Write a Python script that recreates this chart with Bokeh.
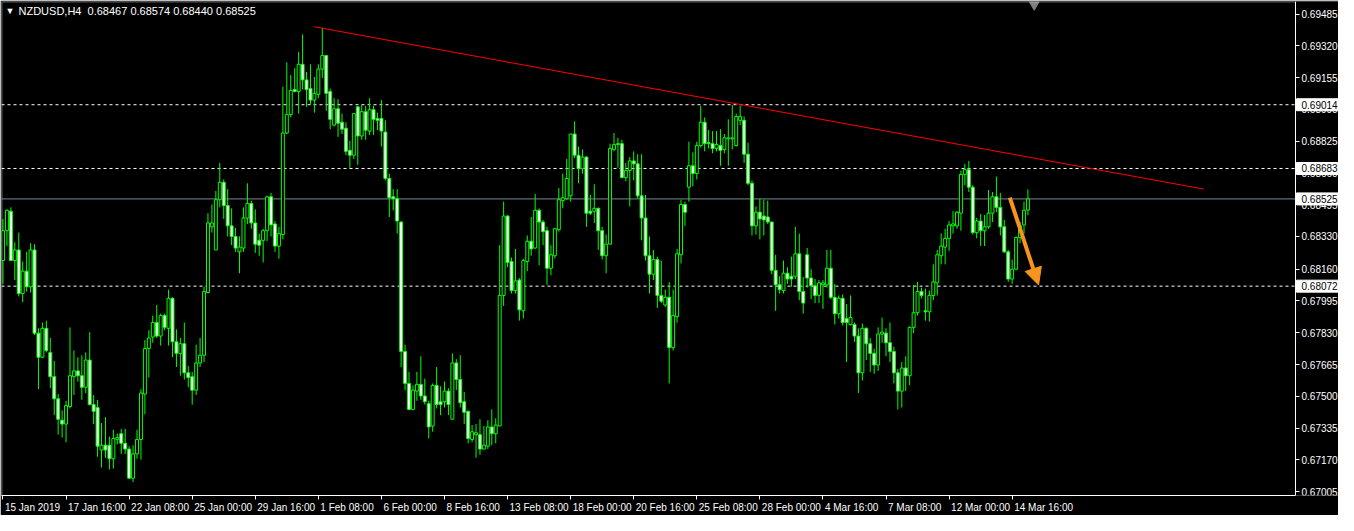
import numpy as np
from bokeh.plotting import figure
from bokeh.models import (Range1d, FixedTicker, PrintfTickFormatter, CustomJSTickFormatter,
                          Label, Arrow, NormalHead, LinearAxis, BoxAnnotation)
from bokeh.core.properties import value
from bokeh.embed import file_html
from bokeh.resources import INLINE

symbol = "NZDUSD,H4"

# H4 OHLC, in points (1 point = 0.00001), first bar 15 Jan 2019 00:00
open_pts = [
    68205, 68360, 68461, 68205, 68260, 68034, 68150, 68069, 68260, 67828,
    67703, 67853, 67728, 67602, 67487, 67376, 67356, 67447, 67602, 67632,
    67607, 67547, 67688, 67457, 67442, 67221, 67246, 67246, 67176, 67276,
    67306, 67256, 67226, 67075, 67201, 67276, 67512, 67748, 67808, 67883,
    67813, 67919, 67853, 68009, 67783, 67723, 67773, 67622, 67602, 67532,
    67673, 67713, 68039, 68380, 68260, 68521, 68611, 68491, 68385, 68330,
    68250, 68270, 68426, 68501, 68400, 68310, 68310, 68360, 68536, 68395,
    68280, 68340, 68867, 68963, 69093, 69083, 69224, 69143, 69098, 69038,
    69068, 69199, 69269, 69083, 68908, 68993, 68923, 68892, 68777, 68752,
    69003, 68852, 68978, 68877, 68988, 68943, 68943, 68872, 68631, 68536,
    68526, 68405, 67733, 67567, 67432, 67527, 67562, 67502, 67462, 67346,
    67557, 67472, 67472, 67527, 67381, 67673, 67587, 67472, 67422, 67276,
    67301, 67301, 67226, 67241, 67341, 67306, 67346, 68024, 68436, 68200,
    68049, 68104, 67944, 68200, 68305, 68270, 68466, 68405, 68360, 68165,
    68230, 68365, 68516, 68526, 68541, 68862, 68752, 68682, 68742, 68461,
    68461, 68476, 68360, 68230, 68290, 68782, 68807, 68812, 68636, 68672,
    68722, 68707, 68541, 68426, 68230, 68134, 68210, 68024, 67974, 68014,
    67753, 67914, 68235, 68496, 68586, 68697, 68657, 68802, 68923, 68817,
    68812, 68787, 68802, 68782, 68837, 68837, 68802, 68933, 68933, 68757,
    68606, 68385, 68456, 68436, 68431, 68405, 68154, 68079, 68049, 68139,
    68124, 68124, 68240, 68044, 68235, 68114, 68074, 68024, 68079, 68079,
    68165, 68014, 67929, 68009, 67904, 67873, 67873, 67813, 67622, 67853,
    67773, 67723, 67663, 67823, 67828, 67778, 67733, 67622, 67527, 67647,
    67607, 67858, 67934, 68044, 67944, 67939, 68024, 68089, 68230, 68275,
    68320, 68385, 68385, 68451, 68652, 68677, 68586, 68350, 68410, 68360,
    68380, 68451, 68536, 68481, 68380, 68250, 68109, 68160, 68325, 68390,
    68467,
]
high_pts = [
    68421, 68471, 68481, 68300, 68350, 68200, 68250, 68295, 68290, 67853,
    67883, 67893, 67803, 67683, 67512, 67427, 67477, 67858, 67738, 67703,
    67713, 67728, 67833, 67507, 67482, 67361, 67391, 67291, 67326, 67306,
    67331, 67331, 67241, 67246, 67326, 67537, 67793, 67843, 67919, 67974,
    67929, 67929, 68054, 68014, 67848, 67803, 67883, 67658, 67627, 67768,
    67803, 68069, 68451, 68496, 68566, 68712, 68626, 68576, 68476, 68375,
    68330, 68481, 68606, 68516, 68471, 68345, 68370, 68541, 68556, 68410,
    68380, 69108, 69234, 69168, 69204, 69289, 69379, 69184, 69224, 69158,
    69224, 69414, 69269, 69098, 69048, 69043, 68968, 68923, 68827, 68968,
    69003, 69013, 69008, 69048, 69008, 68973, 69038, 68933, 68656, 68576,
    68576, 68410, 67768, 67627, 67557, 67627, 67708, 67592, 67477, 67567,
    67652, 67552, 67577, 67542, 67723, 67693, 67713, 67522, 67427, 67351,
    67356, 67381, 67346, 67376, 67432, 67386, 68285, 68511, 68441, 68220,
    68265, 68114, 68215, 68335, 68431, 68551, 68476, 68416, 68380, 68285,
    68375, 68581, 68656, 68732, 68862, 68928, 68797, 68782, 68747, 68546,
    68601, 68481, 68380, 68340, 68812, 68867, 68842, 68832, 68712, 68742,
    68772, 68757, 68757, 68546, 68330, 68260, 68225, 68205, 68054, 68094,
    68054, 68265, 68521, 68511, 68822, 68767, 68822, 69008, 68948, 68883,
    68877, 68877, 68887, 68862, 68938, 69013, 68968, 69008, 68953, 68817,
    68621, 68486, 68526, 68521, 68516, 68405, 68235, 68124, 68205, 68170,
    68225, 68380, 68345, 68119, 68270, 68160, 68109, 68104, 68104, 68260,
    68260, 68084, 68024, 68029, 67979, 68024, 67883, 67853, 67878, 67858,
    67803, 67748, 67858, 67909, 67853, 67883, 67758, 67642, 67678, 67708,
    67863, 68079, 68094, 68064, 68059, 68049, 68185, 68260, 68345, 68370,
    68410, 68461, 68461, 68672, 68707, 68722, 68596, 68426, 68446, 68441,
    68571, 68561, 68641, 68556, 68416, 68260, 68210, 68330, 68405, 68511,
    68574,
]
low_pts = [
    68084, 68280, 68205, 68104, 68019, 67989, 68044, 68039, 67818, 67537,
    67698, 67728, 67542, 67402, 67301, 67286, 67261, 67437, 67507, 67577,
    67482, 67517, 67452, 67356, 67186, 67130, 67181, 67120, 67125, 67251,
    67201, 67201, 67070, 67055, 67176, 67171, 67407, 67597, 67778, 67803,
    67763, 67843, 67763, 67703, 67652, 67607, 67587, 67547, 67457, 67507,
    67652, 67678, 68034, 68350, 68260, 68481, 68421, 68330, 68285, 68250,
    68139, 68250, 68395, 68370, 68245, 68230, 68195, 68305, 68330, 68250,
    68215, 68315, 68862, 68948, 69078, 68968, 69093, 69003, 69013, 68973,
    69048, 69153, 68983, 68887, 68902, 68847, 68862, 68752, 68687, 68732,
    68702, 68832, 68832, 68857, 68857, 68882, 68797, 68621, 68431, 68466,
    68345, 67652, 67532, 67427, 67427, 67477, 67482, 67457, 67281, 67316,
    67437, 67402, 67442, 67402, 67381, 67532, 67442, 67356, 67256, 67261,
    67181, 67196, 67226, 67226, 67246, 67256, 67346, 67969, 68170, 68034,
    68034, 67893, 67904, 68150, 68230, 68265, 68180, 68285, 68079, 68129,
    68215, 68355, 68476, 68521, 68511, 68737, 68606, 68656, 68380, 68441,
    68400, 68260, 68210, 68139, 68290, 68772, 68687, 68631, 68616, 68486,
    68621, 68526, 68310, 68205, 68034, 68104, 67959, 67984, 67964, 67567,
    67738, 67883, 68190, 68385, 68511, 68591, 68626, 68792, 68772, 68787,
    68762, 68772, 68697, 68762, 68697, 68782, 68797, 68908, 68712, 68596,
    68335, 68340, 68315, 68335, 68395, 68134, 67944, 68034, 68034, 68084,
    68069, 68109, 67999, 67929, 68064, 68004, 67984, 67984, 67954, 68064,
    68004, 67873, 67904, 67868, 67678, 67868, 67783, 67517, 67582, 67688,
    67627, 67617, 67632, 67778, 67708, 67678, 67567, 67432, 67442, 67527,
    67557, 67828, 67919, 68009, 67893, 67888, 67999, 68024, 68185, 68185,
    68255, 68345, 68370, 68360, 68596, 68561, 68340, 68320, 68280, 68280,
    68370, 68405, 68456, 68335, 68245, 68094, 68084, 68155, 68295, 68345,
    68440,
]
close_pts = [
    68360, 68466, 68205, 68260, 68034, 68150, 68069, 68260, 67828, 67703,
    67853, 67738, 67602, 67487, 67381, 67356, 67452, 67607, 67632, 67607,
    67547, 67688, 67457, 67422, 67241, 67246, 67221, 67176, 67281, 67286,
    67256, 67226, 67075, 67201, 67276, 67517, 67748, 67803, 67883, 67813,
    67919, 67858, 68009, 67783, 67723, 67773, 67622, 67597, 67532, 67673,
    67713, 68044, 68400, 68400, 68521, 68611, 68491, 68385, 68330, 68270,
    68275, 68426, 68501, 68400, 68290, 68285, 68360, 68536, 68390, 68280,
    68345, 68867, 68963, 69088, 69083, 69224, 69143, 69093, 69038, 69073,
    69199, 69269, 69073, 68938, 68993, 68918, 68887, 68772, 68752, 68968,
    68852, 68978, 68882, 68988, 68938, 68933, 68877, 68631, 68531, 68526,
    68410, 67733, 67567, 67432, 67532, 67562, 67502, 67472, 67341, 67557,
    67457, 67457, 67527, 67457, 67673, 67587, 67467, 67417, 67281, 67316,
    67311, 67226, 67246, 67341, 67306, 67351, 68024, 68436, 68195, 68049,
    68099, 67949, 68205, 68305, 68265, 68466, 68405, 68355, 68165, 68235,
    68370, 68521, 68531, 68631, 68862, 68752, 68682, 68742, 68451, 68451,
    68476, 68360, 68230, 68290, 68787, 68807, 68812, 68636, 68672, 68722,
    68707, 68541, 68426, 68230, 68134, 68210, 68024, 67994, 68014, 67753,
    67919, 68240, 68496, 68456, 68697, 68657, 68802, 68923, 68812, 68812,
    68787, 68807, 68777, 68842, 68842, 68842, 68953, 68953, 68757, 68606,
    68385, 68456, 68421, 68416, 68405, 68154, 68079, 68054, 68139, 68109,
    68109, 68240, 68044, 67984, 68114, 68074, 68024, 68089, 68089, 68165,
    68014, 67929, 68009, 67883, 67883, 67909, 67813, 67622, 67853, 67773,
    67723, 67663, 67823, 67833, 67778, 67733, 67622, 67527, 67647, 67607,
    67858, 67934, 68044, 68024, 67939, 68024, 68094, 68235, 68280, 68320,
    68390, 68395, 68456, 68652, 68677, 68586, 68350, 68410, 68360, 68380,
    68451, 68536, 68481, 68380, 68250, 68109, 68160, 68325, 68385, 68466,
    68525,
]

# time axis: bar index of each label and its text
date_tick_bars = [0, 16, 32, 48, 64, 80, 96, 112, 128, 144, 160, 176, 192, 208, 224, 240, 256]
date_tick_labels = ["15 Jan 2019", "17 Jan 16:00", "22 Jan 08:00", "25 Jan 00:00", "29 Jan 16:00",
                    "1 Feb 08:00", "6 Feb 00:00", "8 Feb 16:00", "13 Feb 08:00", "18 Feb 00:00",
                    "20 Feb 16:00", "25 Feb 08:00", "28 Feb 00:00", "4 Mar 16:00", "7 Mar 08:00",
                    "12 Mar 00:00", "14 Mar 16:00"]
price_ticks = [0.67005, 0.67170, 0.67335, 0.67500, 0.67665, 0.67830, 0.67995, 0.68160,
               0.68330, 0.68495, 0.68660, 0.68825, 0.68990, 0.69155, 0.69320, 0.69485]
dashed_levels = [0.69014, 0.68683, 0.68072]
bid_level = 0.68525
trend_x = [78.9, 304.6]
trend_y = [0.69419, 0.68576]
arrow_x = [255.4, 262.7]
arrow_y = [0.68532, 0.68078]
shift_marker_bar = 261.6

assert len(open_pts) == len(high_pts) == len(low_pts) == len(close_pts)

o = np.array(open_pts) / 1e5
h = np.array(high_pts) / 1e5
l = np.array(low_pts) / 1e5
c = np.array(close_pts) / 1e5
idx = np.arange(len(c))

# layout
FIG_W, FIG_H = 1338, 515
FRAME_W, FRAME_H = FIG_W - 1, FIG_H - 1 - 19
AXIS_AREA = 43                      # px reserved inside the frame for the price scale
CHART_W = FRAME_W - AXIS_AREA
X_MIN, X_AXIS = -0.375, 327.875
ppb = CHART_W / (X_AXIS - X_MIN)
X_MAX = X_AXIS + AXIS_AREA / ppb
Y_MIN, Y_MAX = 0.66985, 0.69550
ppp = (Y_MAX - Y_MIN) / FRAME_H

LIME = "#00ff00"
FONT = "Liberation Sans"

p = figure(width=FIG_W, height=FIG_H, output_backend="svg", toolbar_location=None,
           x_range=Range1d(X_MIN, X_MAX), y_range=Range1d(Y_MIN, Y_MAX),
           y_axis_location=None, background_fill_color="black", border_fill_color="black",
           min_border_left=1, min_border_top=1, min_border_right=0, min_border_bottom=0)
p.grid.visible = False
p.outline_line_color = None

# chart frame (left / top / right edges)
p.add_layout(BoxAnnotation(left=X_MIN + 0.6 / ppb, right=X_AXIS, top=Y_MAX - 0.6 * ppp,
                           bottom=Y_MIN, fill_alpha=0, line_color="white", line_width=1))

# price scale at the right edge of the chart
yax = LinearAxis(fixed_location=X_AXIS)
yax.ticker = FixedTicker(ticks=price_ticks)
yax.formatter = PrintfTickFormatter(format="%.5f")
yax.axis_line_color = "white"
yax.major_tick_line_color = "white"
yax.major_tick_in = 0
yax.major_tick_out = 4
yax.minor_tick_line_color = None
yax.major_label_standoff = 2
yax.major_label_text_color = "white"
yax.major_label_text_font = FONT
yax.major_label_text_font_size = "10px"
p.add_layout(yax, "right")

# bottom time axis (ticks at bars, labels to the right of each tick)
CW = {ch: 5.56 for ch in "0123456789abnJe"}
CW.update({" ": 2.78, ":": 2.78, "F": 6.11, "M": 8.33, "r": 3.33, "J": 5.0})
def text_w(s):
    return sum(CW.get(ch, 5.56) for ch in s)
label_pos = [b + (2 + text_w(t) / 2) / ppb for b, t in zip(date_tick_bars, date_tick_labels)]

xax = p.xaxis[0]
xax.bounds = (X_MIN, X_AXIS)
xax.ticker = FixedTicker(ticks=label_pos, minor_ticks=date_tick_bars)
xax.formatter = CustomJSTickFormatter(args=dict(labels=date_tick_labels), code="return labels[index];")
xax.axis_line_color = "white"
xax.major_tick_line_color = None
xax.major_tick_out = 4
xax.major_tick_in = 0
xax.minor_tick_line_color = "white"
xax.minor_tick_out = 4
xax.minor_tick_in = 0
xax.major_label_standoff = 2
xax.major_label_text_color = "white"
xax.major_label_text_font = FONT
xax.major_label_text_font_size = "10px"

# horizontal levels (stop at the price scale)
p.segment(x0=[X_MIN] * len(dashed_levels), x1=[X_AXIS] * len(dashed_levels),
          y0=dashed_levels, y1=dashed_levels, line_color="white", line_dash="3 3", line_width=1)
p.segment(x0=[X_MIN], x1=[X_AXIS], y0=[bid_level], y1=[bid_level], line_color="#778899", line_width=1)

# candles
bull = c > o
fills = ["black" if b else "white" for b in bull]
p.segment(x0=idx, y0=l, x1=idx, y1=h, line_color=LIME, line_width=1)
p.vbar(x=idx, width=0.75, top=np.maximum(o, c), bottom=np.minimum(o, c),
       fill_color=fills, line_color=LIME, line_width=1)

# trend line
p.line(x=trend_x, y=trend_y, line_color="#ff0000", line_width=1)

# orange arrow
ORANGE = "#f7941d"
p.add_layout(Arrow(end=NormalHead(size=17, fill_color=ORANGE, line_color=ORANGE),
                   x_start=arrow_x[0], y_start=arrow_y[0], x_end=arrow_x[1], y_end=arrow_y[1],
                   line_color=ORANGE, line_width=4))

# chart shift marker
p.scatter(x=[shift_marker_bar], y=[Y_MAX - 3 * ppp], marker="inverted_triangle", size=10,
          fill_color="#808080", line_color="#808080")

# boxed price labels on the price scale
box_levels = dashed_levels + [bid_level]
r_box = p.quad(left=[X_AXIS + 1 / ppb] * len(box_levels), right=[X_MAX] * len(box_levels),
               top=[v + 6 * ppp for v in box_levels], bottom=[v - 6 * ppp for v in box_levels],
               fill_color="white", line_color="white", line_width=1)
r_box.level = "overlay"
r_txt = p.text(x=[X_AXIS + 6 / ppb] * len(box_levels), y=box_levels,
               text=[f"{v:.5f}" for v in box_levels], text_color="black",
               text_font=value(FONT), text_font_size="10px", text_baseline="middle", text_align="left")
r_txt.level = "overlay"

# header text
HEAD_Y = Y_MAX - 10 * ppp
p.add_layout(Label(x=X_MIN, y=HEAD_Y, x_offset=4, text="\u25bc", text_color="white",
                   text_font=FONT, text_font_size="9px", text_baseline="middle"))
header = f"{symbol}\u00a0\u00a0{o[-1]:.5f} {h[-1]:.5f} {l[-1]:.5f} {c[-1]:.5f}"
p.add_layout(Label(x=X_MIN, y=HEAD_Y, x_offset=17, text=header, text_color="white",
                   text_font=FONT, text_font_size="11px", text_baseline="middle"))

open("out.html", "w").write(file_html(p, INLINE))
